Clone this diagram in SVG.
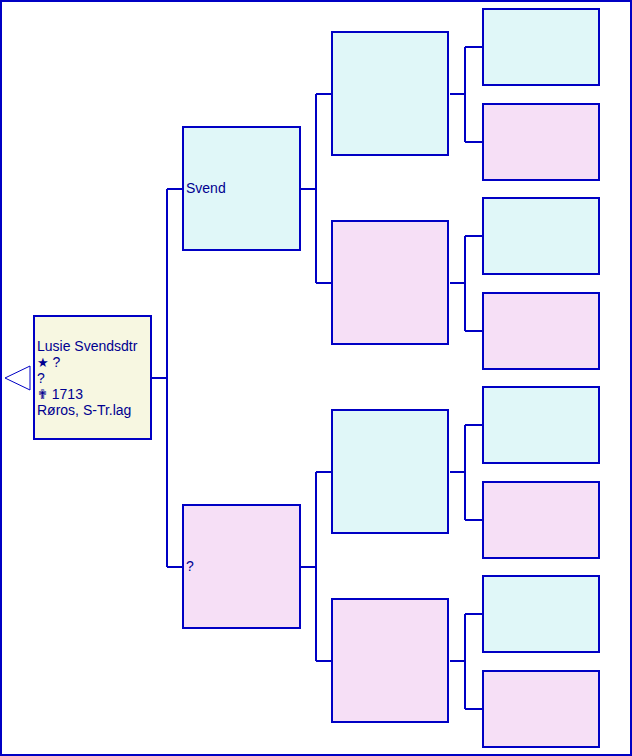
<svg xmlns="http://www.w3.org/2000/svg" width="632" height="756" viewBox="0 0 632 756">
<style>
.box{stroke:#0000c4;stroke-width:2}
.m{fill:#e0f7f8}
.f{fill:#f6dff6}
.r{fill:#f7f7e1}
.c{fill:none;stroke:#0000c4;stroke-width:2}
text{font-family:"Liberation Sans",Arial,sans-serif;font-size:14px;fill:#000090}
.sym{font-family:"DejaVu Sans",sans-serif;font-size:13px}
</style>
<rect x="1" y="1" width="630" height="754" fill="#ffffff" stroke="#0000c4" stroke-width="2"/>
<g id="connectors">
<path class="c" d="M152,378H167M167,189V567M167,189H182M167,567H182"/>
<path class="c" d="M301,189H316M316,94V283M316,94H331M316,283H331"/>
<path class="c" d="M301,567H316M316,472V661M316,472H331M316,661H331"/>
<path class="c" d="M450,94H466M465,47V142M465,47H482M465,142H482"/>
<path class="c" d="M450,283H466M465,236V331M465,236H482M465,331H482"/>
<path class="c" d="M450,472H466M465,425V520M465,425H482M465,520H482"/>
<path class="c" d="M450,661H466M465,614V709M465,614H482M465,709H482"/>
</g>
<g id="back-arrow"><polygon points="5,378 30,366 30,390" fill="#ffffff" stroke="#0000c4" stroke-width="1"/></g>
<g id="root">
<rect class="box r" x="34" y="316" width="117" height="123"/>
<text x="37" y="351">Lusie Svendsdtr</text>
<text x="37" y="367"><tspan class="sym">★</tspan> ?</text>
<text x="37" y="383">?</text>
<text x="37" y="399"><tspan class="sym">✟</tspan> 1713</text>
<text x="37" y="415">Røros, S-Tr.lag</text>
</g>
<g id="father"><rect class="box m" x="183" y="127" width="117" height="123"/><text x="186" y="193">Svend</text></g>
<g id="mother"><rect class="box f" x="183" y="505" width="117" height="123"/><text x="186" y="571">?</text></g>
<g id="ff"><rect class="box m" x="332" y="32" width="116" height="123"/></g>
<g id="fm"><rect class="box f" x="332" y="221" width="116" height="123"/></g>
<g id="mf"><rect class="box m" x="332" y="410" width="116" height="123"/></g>
<g id="mm"><rect class="box f" x="332" y="599" width="116" height="123"/></g>
<g id="fff"><rect class="box m" x="483" y="9" width="116" height="76"/></g>
<g id="ffm"><rect class="box f" x="483" y="104" width="116" height="76"/></g>
<g id="fmf"><rect class="box m" x="483" y="198" width="116" height="76"/></g>
<g id="fmm"><rect class="box f" x="483" y="293" width="116" height="76"/></g>
<g id="mff"><rect class="box m" x="483" y="387" width="116" height="76"/></g>
<g id="mfm"><rect class="box f" x="483" y="482" width="116" height="76"/></g>
<g id="mmf"><rect class="box m" x="483" y="576" width="116" height="76"/></g>
<g id="mmm"><rect class="box f" x="483" y="671" width="116" height="76"/></g>
</svg>
